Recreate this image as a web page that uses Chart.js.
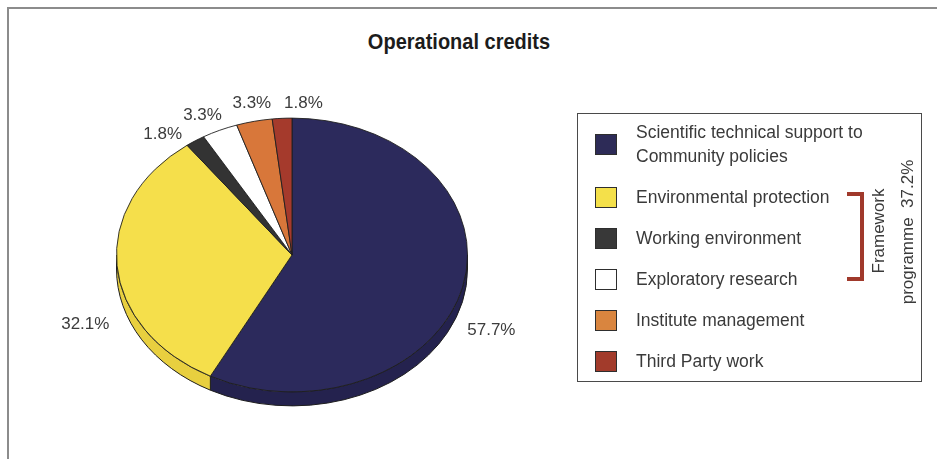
<!DOCTYPE html>
<html>
<head>
<meta charset="utf-8">
<title>Operational credits</title>
<script src="https://cdn.jsdelivr.net/npm/chart.js@4/dist/chart.umd.min.js"></script>
<style>
  html, body { margin: 0; padding: 0; background: #fff; }
  body { width: 937px; height: 459px; position: relative; overflow: hidden;
         font-family: "Liberation Sans", Arial, Helvetica, sans-serif; color: #3a3a3a; }
  #frame { position: absolute; left: 7px; top: 7px; width: 940px; height: 460px;
           border-left: 2px solid #8c8c8c; border-top: 2px solid #8c8c8c; }
  #pie { position: absolute; left: 0; top: 0; }
  #title { position: absolute; left: 0; top: 30px; width: 918px; text-align: center;
           font-weight: bold; font-size: 20px; color: #1c1c1c; transform: scaleY(1.12); }
  #legend { position: absolute; left: 577px; top: 113px; width: 343px; height: 267px;
            border: 1.5px solid #4a4a4a; box-sizing: content-box; }
  #legend ul { list-style: none; margin: 0; padding: 6px 0 0 17px; }
  #legend li { display: flex; align-items: center; margin-bottom: 17px;
               font-size: 17.5px; line-height: 24px; color: #3a3a3a; }
  #legend .sw { width: 20px; height: 19px; border: 1.5px solid #2e2e2e; margin-right: 19px; flex: none; }
  .bracket { position: absolute; background: #a0392b; }
  .rot { position: absolute; font-size: 17px; color: #3a3a3a; white-space: pre;
         transform: translate(-50%, -50%) rotate(-90deg); }
</style>
</head>
<body>
<div id="frame"></div>
<div id="title">Operational credits</div>
<canvas id="pie" width="937" height="459"></canvas>
<div id="legend"><ul id="legendList"></ul></div>
<div class="bracket" style="left:860px; top:192px; width:4px; height:89px;"></div>
<div class="bracket" style="left:847px; top:192px; width:17px; height:4px;"></div>
<div class="bracket" style="left:847px; top:277px; width:17px; height:4px;"></div>
<div class="rot" style="left:879px; top:231px;">Framework</div>
<div class="rot" style="left:908px; top:232px;">programme  37.2%</div>

<script>
const categories = [
  ['Scientific technical support to', 'Community policies'],
  'Environmental protection',
  'Working environment',
  'Exploratory research',
  'Institute management',
  'Third Party work'
];
const shares = [57.7, 32.1, 1.8, 3.3, 3.3, 1.8];
const sliceColors = ['#2c2a5c', '#f5df4b', '#333333', '#ffffff', '#d8773a', '#a53a2c'];
const sideColors = ['#24224e', '#e8cf3f', '#2a2a2a', '#e6e6e6', '#c0652e', '#8e3024'];
const swatchColors = ['#2d2b57', '#f4e04a', '#383838', '#ffffff', '#d9853f', '#a23b2b'];

// label offsets from the radial anchor, in px
const labelNudge = [[0, 37], [-2, 57], [-16, 13], [-5, 6], [4, 5], [23, 8]];

const tilt = 0.78;
const depth = 14;
const edge = '#1e1e1e';

// legend
const list = document.getElementById('legendList');
categories.forEach((c, i) => {
  const text = Array.isArray(c) ? c.join('<br>') : c;
  list.innerHTML += `<li><span class="sw" style="background:${swatchColors[i]}"></span><span>${text}</span></li>`;
});

// squash the pie into an ellipse and give it a thickness
const pie3d = {
  id: 'pie3d',
  beforeDatasetsDraw(chart) {
    const ctx = chart.ctx;
    const arcs = chart.getDatasetMeta(0).data;
    const { x, y, outerRadius } = arcs[0];
    const ry = outerRadius * tilt;
    arcs.forEach((arc, i) => {
      const s = Math.max(arc.startAngle, 0);
      const e = Math.min(arc.endAngle, Math.PI);
      if (e <= s) return;
      ctx.beginPath();
      ctx.ellipse(x, y, outerRadius, ry, 0, s, e);
      ctx.ellipse(x, y + depth, outerRadius, ry, 0, e, s, true);
      ctx.closePath();
      ctx.fillStyle = sideColors[i];
      ctx.fill();
      ctx.strokeStyle = edge;
      ctx.lineWidth = 1;
      ctx.stroke();
    });
    ctx.save();
    ctx.translate(x, y);
    ctx.scale(1, tilt);
    ctx.translate(-x, -y);
  },
  afterDatasetsDraw(chart) {
    const ctx = chart.ctx;
    ctx.restore();
    const arcs = chart.getDatasetMeta(0).data;
    ctx.save();
    ctx.font = '17px "Liberation Sans", Arial, sans-serif';
    ctx.fillStyle = '#3c3c3c';
    ctx.textAlign = 'center';
    ctx.textBaseline = 'middle';
    arcs.forEach((arc, i) => {
      const mid = (arc.startAngle + arc.endAngle) / 2;
      const f = 1.17;
      const lx = arc.x + Math.cos(mid) * arc.outerRadius * f + labelNudge[i][0];
      const ly = arc.y + Math.sin(mid) * arc.outerRadius * tilt * f + labelNudge[i][1];
      ctx.fillText(shares[i].toFixed(1) + '%', lx, ly);
    });
    ctx.restore();
  }
};

new Chart(document.getElementById('pie'), {
  type: 'pie',
  data: {
    labels: categories,
    datasets: [{
      data: shares,
      backgroundColor: sliceColors,
      borderColor: edge,
      borderWidth: 1,
      clip: false
    }]
  },
  options: {
    responsive: false,
    animation: false,
    events: [],
    layout: { padding: { left: 116, right: 469, top: 79, bottom: 28 } },
    plugins: {
      legend: { display: false },
      tooltip: { enabled: false },
      title: { display: false }
    }
  },
  plugins: [pie3d]
});
</script>
</body>
</html>
